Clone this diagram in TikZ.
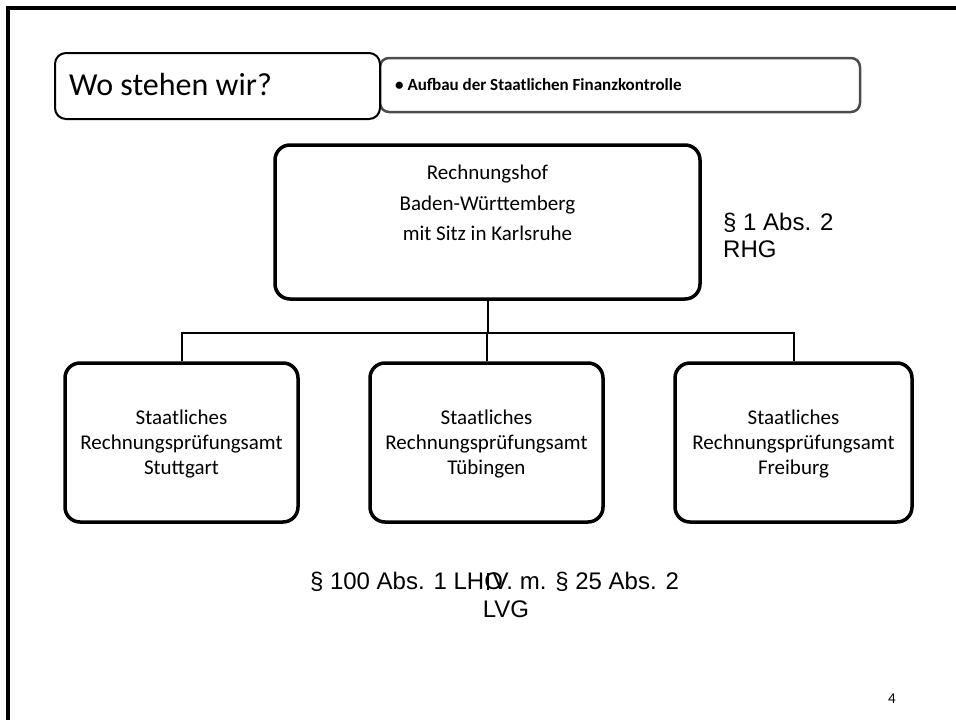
\documentclass[tikz,border=0pt]{standalone}
\usepackage{fontspec}
\setmainfont{Carlito}
\newfontfamily\arialfont{Liberation Sans}
\begin{document}
\begin{tikzpicture}[x=1pt,y=-1pt,
  orgbox/.style={draw, line width=3.5pt, rounded corners=15pt, fill=white, align=center, inner sep=0pt},
  conn/.style={line width=2pt},
  boxtext/.style={font=\fontsize{21}{25}\selectfont, align=center},
  lawtext/.style={font=\arialfont\fontsize{24}{27}\selectfont, inner sep=0pt}]
\useasboundingbox (0,0) rectangle (956,720);
% page frame
\coordinate (ftl) at (8,8);
\coordinate (fbl) at (8,720);
\coordinate (ftr) at (956,8);
\draw[line width=3.5pt] (fbl) -- (ftl) -- (ftr);
% subtitle box
\node[draw=black!70, line width=2.5pt, rounded corners=9pt, minimum width=480pt, minimum height=54pt, inner sep=0pt] (sub) at (620,85) {};
\node[anchor=west, font=\bfseries\fontsize{17}{20}\selectfont, inner sep=0pt] (subtxt) at (395,85) {• Aufbau der Staatlichen Finanzkontrolle};
% title box
\node[draw, line width=2pt, rounded corners=11pt, fill=white, minimum width=325pt, minimum height=66pt, inner sep=0pt] (title) at (217.5,86) {};
\node[anchor=west, font=\fontsize{32}{38}\selectfont, inner sep=0pt] (titletxt) at (69,85) {Wo stehen wir?};
% main box
\node[orgbox, minimum width=425pt, minimum height=154pt] (top) at (487.5,222) {};
\node[font=\fontsize{21}{30.5}\selectfont, align=center] (toptxt) at (487.5,203) {Rechnungshof\\Baden-Württemberg\\mit Sitz in Karlsruhe};
\node[lawtext, anchor=west, align=left] (rhg) at (723,235) {§ 1 Abs. 2\\RHG};
% lower boxes
\node[orgbox, minimum width=233pt, minimum height=159pt] (left) at (181.5,442.5) {};
\node[orgbox, minimum width=233pt, minimum height=159pt] (mid) at (486.5,442.5) {};
\node[orgbox, minimum width=237pt, minimum height=159pt] (right) at (793.5,442.5) {};
\node[boxtext] (lefttxt) at (181.5,444) {Staatliches\\Rechnungsprüfungsamt\\Stuttgart};
\node[boxtext] (midtxt) at (486.5,444) {Staatliches\\Rechnungsprüfungsamt\\Tübingen};
\node[boxtext] (righttxt) at (793.5,444) {Staatliches\\Rechnungsprüfungsamt\\Freiburg};
% connectors
\coordinate (bus) at (487.5,333);
\draw[conn] (top.south) -- (bus);
\draw[conn] (left.north) |- (bus) -| (right.north);
\draw[conn] (bus -| mid.north) -- (mid.north);
% law text bottom
\node[lawtext] (lho) at (494.5,582) {§ 100 Abs. 1 LH\rlap{O}\kern3pt\vrule width 1.8pt height 17pt depth 0pt\kern3.5pt V. m. § 25 Abs. 2};
\node[lawtext] (lvg) at (506,609) {LVG};
% page number
\node[font=\fontsize{15}{18}\selectfont, inner sep=0pt] (pnum) at (892,699) {4};
\end{tikzpicture}
\end{document}
